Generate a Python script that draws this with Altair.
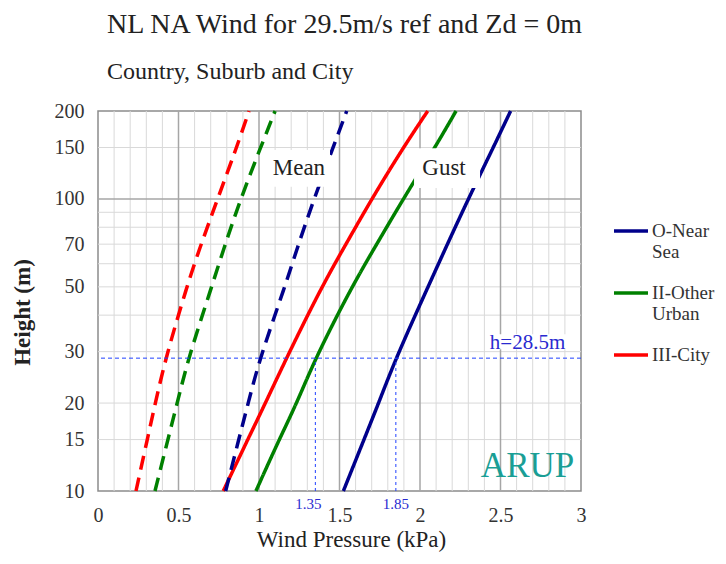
import altair as alt
import pandas as pd

# ---------------- data ----------------
heights = [10, 15, 20, 28.5, 50, 70, 100, 150, 200]
terrains = ["O-Near Sea", "II-Other Urban", "III-City"]
colors = ["#00008B", "#008000", "#FF0000"]

gust_near_sea = [1.524, 1.652, 1.743, 1.85, 2.05, 2.17, 2.30, 2.455, 2.563]
gust_other_urban = [0.981, 1.125, 1.235, 1.35, 1.576, 1.731, 1.896, 2.093, 2.224]
gust_city = [0.778, 0.93, 1.04, 1.17, 1.389, 1.54, 1.70, 1.896, 2.048]
mean_near_sea = [0.793, 0.874, 0.933, 1.005, 1.161, 1.245, 1.342, 1.46, 1.545]
mean_other_urban = [0.354, 0.434, 0.492, 0.561, 0.706, 0.79, 0.886, 1.01, 1.10]
mean_city = [0.236, 0.306, 0.356, 0.42, 0.551, 0.64, 0.743, 0.861, 0.938]

x_ticks = [0, 0.5, 1, 1.5, 2, 2.5, 3]
y_ticks = [10, 15, 20, 30, 50, 70, 100, 150, 200]
x_grid_minor = [0.1, 0.2, 0.3, 0.4, 0.6, 0.7, 0.8, 0.9, 1.1, 1.2, 1.3, 1.4,
                1.6, 1.7, 1.8, 1.9, 2.1, 2.2, 2.3, 2.4, 2.6, 2.7, 2.8, 2.9]
x_grid_major = [0.5, 1, 1.5, 2, 2.5]
y_grid_minor = [15, 20, 30, 40, 50, 60, 70, 80, 90, 150]
y_grid_major = [100]

ref_height = 28.5
ref_values = [1.35, 1.85]
ref_labels = ["1.35", "1.85"]

label_names = ["Mean", "Gust"]
label_x = [1.248, 2.149]
label_y = [128, 128]
box_x = [1.025, 1.963]
box_x2 = [1.441, 2.373]
box_y = [110, 109]
box_y2 = [147, 149]

# ---------------- tables ----------------
rows = []
series = [
    ("O-Near Sea", "Gust", gust_near_sea),
    ("II-Other Urban", "Gust", gust_other_urban),
    ("III-City", "Gust", gust_city),
    ("O-Near Sea", "Mean", mean_near_sea),
    ("II-Other Urban", "Mean", mean_other_urban),
    ("III-City", "Mean", mean_city),
]
for terr, kind, vals in series:
    for h, v in zip(heights, vals):
        rows.append({"terrain": terr, "kind": kind, "series": terr + " " + kind,
                     "h": h, "p": v})
df = pd.DataFrame(rows)

FONT = "Liberation Serif"
xs = alt.Scale(domain=[0, 3], nice=False, zero=False)
ys = alt.Scale(type="log", domain=[10, 200], nice=False)

x_axis = alt.Axis(values=x_ticks, format="~g", title="Wind Pressure (kPa)",
                  grid=False, ticks=False, domain=False,
                  labelFont=FONT, labelFontSize=20, labelColor="#333333",
                  labelPadding=14, labelFlush=False,
                  titleFont=FONT, titleFontSize=23, titleFontWeight="normal",
                  titleColor="#222222", titleX=253, titleY=48,
                  titleBaseline="middle", titleAlign="center")
y_axis = alt.Axis(values=y_ticks, format="~g", title="Height (m)",
                  grid=False, ticks=False, domain=False,
                  labelFont=FONT, labelFontSize=20, labelColor="#333333",
                  labelPadding=14, labelFlush=False,
                  titleFont=FONT, titleFontSize=23, titleFontWeight="bold",
                  titleColor="#222222", titleX=-76, titleY=201,
                  titleBaseline="middle", titleAlign="center", titleAngle=-90)


def X(field):
    return alt.X(field, type="quantitative", scale=xs, axis=x_axis, title="Wind Pressure (kPa)")


def Y(field):
    return alt.Y(field, type="quantitative", scale=ys, axis=y_axis, title="Height (m)")


grid_minor_x = alt.Chart(pd.DataFrame({"p": x_grid_minor})).mark_rule(
    color="#d9d9d9", strokeWidth=1).encode(x=X("p"))
grid_minor_y = alt.Chart(pd.DataFrame({"h": y_grid_minor})).mark_rule(
    color="#d9d9d9", strokeWidth=1).encode(y=Y("h"))
grid_major_x = alt.Chart(pd.DataFrame({"p": x_grid_major})).mark_rule(
    color="#a6a6a6", strokeWidth=1.5).encode(x=X("p"))
grid_major_y = alt.Chart(pd.DataFrame({"h": y_grid_major})).mark_rule(
    color="#a6a6a6", strokeWidth=1.5).encode(y=Y("h"))

lines = alt.Chart(df).mark_line(strokeWidth=3.5, interpolate="basis").encode(
    x=X("p"),
    y=Y("h"),
    color=alt.Color("terrain:N",
                    scale=alt.Scale(domain=terrains, range=colors),
                    legend=alt.Legend(orient="none", legendX=514, legendY=101,
                                      title=None, labelFont=FONT, labelFontSize=19,
                                      labelColor="#333333", symbolType="stroke",
                                      symbolSize=1156, symbolStrokeWidth=3.5,
                                      labelOffset=2, rowPadding=12, labelLimit=200,
                                      labelExpr="split(datum.label, ' ')")),
    strokeDash=alt.StrokeDash("kind:N",
                              scale=alt.Scale(domain=["Gust", "Mean"],
                                              range=[[1, 0], [14, 8]]),
                              legend=None),
    detail="series:N",
    order="h:Q",
)

# reference height line and dotted drop lines
href = alt.Chart(pd.DataFrame({"h": [ref_height]})).mark_rule(
    color="#2040ff", strokeWidth=1, strokeDash=[4, 3]).encode(y=Y("h"))
drops = alt.Chart(pd.DataFrame({"p": ref_values, "h": [10, 10],
                                "h2": [ref_height, ref_height]})).mark_rule(
    color="#2040ff", strokeWidth=1, strokeDash=[3, 3]).encode(
    x=X("p"), y=Y("h"), y2="h2:Q")
drop_label_a = alt.Chart(pd.DataFrame({"p": ref_values[:1], "h": [10], "t": ref_labels[:1]})).mark_text(
    font=FONT, fontSize=15, color="#2a2ad0", baseline="middle", dy=13, dx=-7).encode(
    x=X("p"), y=Y("h"), text="t:N")
drop_label_b = alt.Chart(pd.DataFrame({"p": ref_values[1:], "h": [10], "t": ref_labels[1:]})).mark_text(
    font=FONT, fontSize=15, color="#2a2ad0", baseline="middle", dy=13).encode(
    x=X("p"), y=Y("h"), text="t:N")

hbox = alt.Chart(pd.DataFrame({"p": [2.404], "p2": [2.92], "h": [30.6], "h2": [34.4]})).mark_rect(
    color="white").encode(x=X("p"), x2="p2:Q", y=Y("h"), y2="h2:Q")
hlabel = alt.Chart(pd.DataFrame({"p": [2.668], "h": [ref_height], "t": ["h=28.5m"]})).mark_text(
    font=FONT, fontSize=21, color="#2a2ad0", baseline="middle", dy=-15).encode(
    x=X("p"), y=Y("h"), text="t:N")

boxes = alt.Chart(pd.DataFrame({"p": box_x, "p2": box_x2, "h": box_y, "h2": box_y2})).mark_rect(
    color="white").encode(x=X("p"), x2="p2:Q", y=Y("h"), y2="h2:Q")
labels = alt.Chart(pd.DataFrame({"p": label_x, "h": label_y, "t": label_names})).mark_text(
    font=FONT, fontSize=23, color="#222222", baseline="middle").encode(
    x=X("p"), y=Y("h"), text="t:N")

logo = alt.Chart(pd.DataFrame({"p": [2.668], "h": [12.18], "t": ["ARUP"]})).mark_text(
    font=FONT, fontSize=35, color="#1a9e95", baseline="middle").encode(
    x=X("p"), y=Y("h"), text="t:N")

chart = alt.layer(
    grid_minor_x, grid_minor_y, grid_major_x, grid_major_y,
    lines, href, drops, drop_label_a, drop_label_b, hbox, hlabel, boxes, labels, logo
).properties(
    width=483, height=380,
    autosize=alt.AutoSizeParams(type="none"),
    padding={"left": 90, "top": 103, "right": 137, "bottom": 61},
    title=alt.Title("NL NA Wind for 29.5m/s ref and Zd = 0m",
                    subtitle="Country, Suburb and City",
                    anchor="start", frame="group", dx=9, offset=17, subtitlePadding=21,
                    font=FONT, fontSize=28, fontWeight="normal", color="#222222",
                    subtitleFont=FONT, subtitleFontSize=24, subtitleColor="#222222"),
).configure(font=FONT).configure_axis(labelFont=FONT, titleFont=FONT).configure_legend(
    labelFont=FONT).configure_view(stroke="#8c8c8c", strokeWidth=1.5)

chart.save("out.html", embed_options={"renderer": "svg", "actions": False})
